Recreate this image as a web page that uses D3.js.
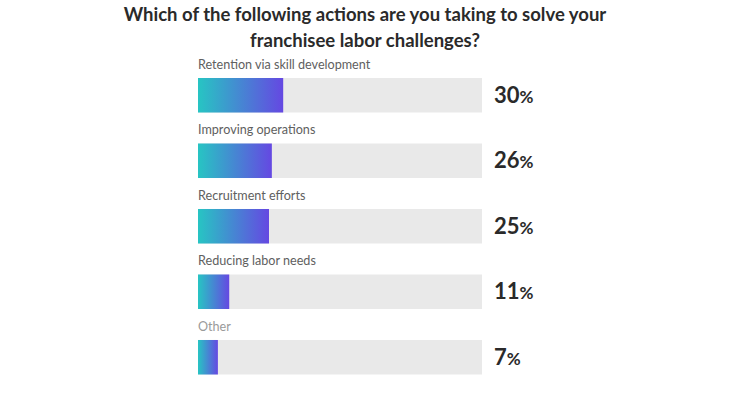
<!DOCTYPE html>
<html>
<head>
<meta charset="utf-8">
<script src="https://cdn.jsdelivr.net/npm/d3@7"></script>
<style>
  body { margin: 0; background: #fff; }
  svg { display: block; }
</style>
</head>
<body>
<div id="chart"></div>
<script>
// Data
var categories = ["Retention via skill development", "Improving operations", "Recruitment efforts", "Reducing labor needs", "Other"];
var values = [30, 26, 25, 11, 7];
var titleLines = ["Which of the following actions are you taking to solve your", "franchisee labor challenges?"];

var svgWidth = 750;
var svgHeight = 399;

var svg = d3.select("#chart")
  .append("svg")
  .attr("width", svgWidth)
  .attr("height", svgHeight);

// gradient for the filled bars
var grad = svg.append("defs").append("linearGradient")
  .attr("id", "barGrad")
  .attr("x1", "0%").attr("x2", "100%")
  .attr("y1", "0%").attr("y2", "0%");
grad.append("stop").attr("offset", "0%").attr("stop-color", "#27c5c3");
grad.append("stop").attr("offset", "100%").attr("stop-color", "#6548e2");

// Title
svg.selectAll(".title")
  .data(titleLines)
  .enter()
  .append("text")
  .attr("class", "title")
  .attr("x", 365)
  .attr("y", (d, i) => 21 + i * 26)
  .attr("text-anchor", "middle")
  .attr("font-family", "Lato, 'Open Sans', sans-serif")
  .attr("font-weight", "bold")
  .attr("font-size", "18.5px")
  .attr("fill", "#2a2a2a")
  .text(d => d);

// Scales
var x = d3.scaleLinear()
  .domain([0, 100])
  .range([198, 482]);

var y = d3.scaleBand()
  .domain(categories)
  .range([78, 374.5])
  .paddingInner(0.473)
  .paddingOuter(0);

var rows = categories.map((c, i) => ({ name: c, value: values[i] }));

var row = svg.selectAll(".row")
  .data(rows)
  .enter()
  .append("g")
  .attr("class", "row");

// background track
row.append("rect")
  .attr("x", x(0))
  .attr("y", d => y(d.name))
  .attr("width", x(100) - x(0))
  .attr("height", y.bandwidth())
  .attr("fill", "#e9e9e9");

// value bar
row.append("rect")
  .attr("x", x(0))
  .attr("y", d => y(d.name))
  .attr("width", d => x(d.value) - x(0))
  .attr("height", y.bandwidth())
  .attr("fill", "url(#barGrad)");

// category labels
row.append("text")
  .attr("x", x(0))
  .attr("y", d => y(d.name) - 9)
  .attr("font-family", "Lato, 'Open Sans', sans-serif")
  .attr("font-size", "12.6px")
  .attr("fill", d => d.name === "Other" ? "#9a9a9a" : "#606060")
  .text(d => d.name);

// percent labels
var pct = row.append("text")
  .attr("x", 494)
  .attr("y", d => y(d.name) + y.bandwidth() / 2 + 7.5)
  .attr("font-family", "Lato, 'Open Sans', sans-serif")
  .attr("font-weight", "bold")
  .attr("fill", "#2a2a2a");

pct.append("tspan")
  .attr("font-size", "22px")
  .text(d => d.value);

pct.append("tspan")
  .attr("font-size", "17px")
  .text("%");
</script>
</body>
</html>
